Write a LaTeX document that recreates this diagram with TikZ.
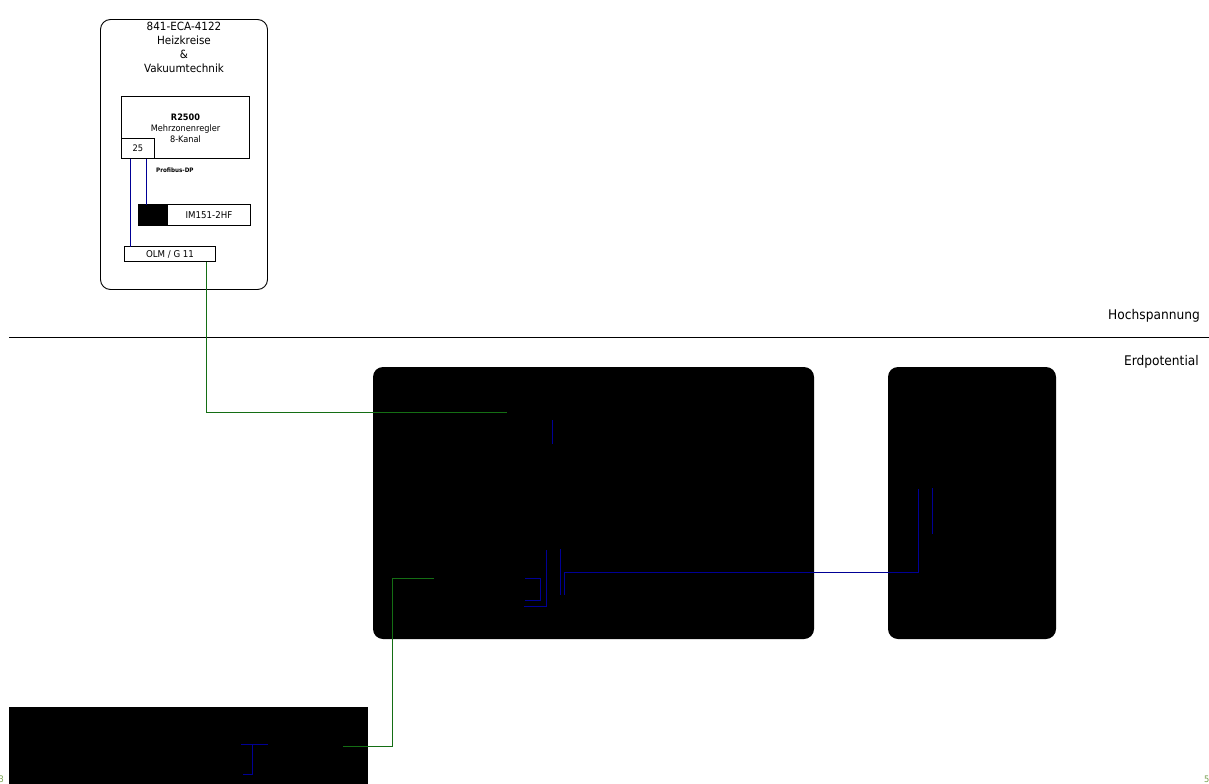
\documentclass[tikz,border=0pt]{standalone}
\usepackage{fontspec}
\setmainfont[FakeStretch=0.92]{DejaVu Sans}
\definecolor{wireblue}{RGB}{0,0,150}
\definecolor{wiregreen}{RGB}{20,110,20}
\definecolor{pagenum}{RGB}{120,160,80}
\newcommand{\fsz}[1]{\fontsize{#1bp}{14bp}\selectfont}
\newcommand{\fszz}[2]{\fontsize{#1bp}{#2bp}\selectfont}
\tikzset{
  x=1bp,y=-1bp,
  box/.style={draw=black,line width=0.9bp,inner sep=0pt,outer sep=0pt,align=center,fill=white},
  blackbox/.style={fill=black,draw=none,inner sep=0pt,outer sep=0pt},
  bluewire/.style={draw=wireblue,line width=1.2bp},
  greenwire/.style={draw=wiregreen,line width=1.2bp},
  sidelabel/.style={inner sep=0pt,anchor=base east,font=\fsz{13.3}},
  smalltxt/.style={inner sep=0pt,align=center,text=black},
  boxsize/.style 2 args={minimum width=#1bp,minimum height=#2bp}
}
\begin{document}
\begin{tikzpicture}
\useasboundingbox (0,0) rectangle (1209,784);
% outer module
\node[box,boxsize={167}{270},rounded corners=10bp] (eca) at (184,154.5) {};
\node[smalltxt,font=\fszz{11.3}{14}] (ecatitle) at (184,47.5) {841-ECA-4122\\Heizkreise\\\&\\Vakuumtechnik};
% R2500
\node[box,boxsize={128}{62}] (r2500) at (185.5,127.5) {};
\node[smalltxt,font=\fszz{8.9}{11}] (r2500txt) at (185.5,128) {\textbf{R2500}\\Mehrzonenregler\\8-Kanal};
\node[box,boxsize={33}{20},font=\fsz{9}] (p25) at (138,148.5) {25};
\node[smalltxt,font=\fsz{6.1}\bfseries,anchor=west] (profi) at (156,170) {Profibus-DP};
% IM151
\node[box,boxsize={112}{21},font=\fsz{9.4}] (im) at (194.5,215) {\hspace*{29bp}IM151-2HF};
\node[blackbox,boxsize={30}{21}] (imblack) at (153,215) {};
% OLM
\node[box,boxsize={91}{15},font=\fsz{9.4}] (olm) at (170,254) {OLM / G 11};
% divider
\coordinate (divL) at (9,337.5);
\coordinate (divR) at (1209,337.5);
\draw[line width=0.9bp] (divL) -- (divR);
\node[sidelabel] (hv) at (1200,319) {Hochspannung};
\node[sidelabel] (ep) at (1199,365) {Erdpotential};
% black blocks
\node[blackbox,boxsize={441}{272},rounded corners=10bp] (mid) at (593.5,503) {};
\node[blackbox,boxsize={168}{272},rounded corners=10bp] (right) at (972,503) {};
\node[blackbox,boxsize={359}{77}] (bot) at (188.5,745.5) {};
% free connector ends
\coordinate (b25a) at (130.5,158.5);
\coordinate (b25b) at (146.5,158.5);
\coordinate (olmin) at (130.5,246.5);
\coordinate (imin) at (146.5,204.5);
\coordinate (olmout) at (206.5,261.5);
\coordinate (g1) at (507,412.5);
\coordinate (g2a) at (434,578.5);
\coordinate (g2b) at (343,746.5);
\draw[bluewire] (b25a) -- (olmin);
\draw[bluewire] (b25b) -- (imin);
\draw[greenwire] (olmout) |- (g1);
\draw[greenwire] (g2a) -- (392.5,578.5) |- (g2b);
% blue stubs in blocks
\coordinate (s1a) at (552.5,420); \coordinate (s1b) at (552.5,444);
\draw[bluewire] (s1a) -- (s1b);
\coordinate (s2a) at (546.5,550); \coordinate (s2b) at (524,606.5);
\draw[bluewire] (s2a) |- (s2b);
\coordinate (s3a) at (525,578.5); \coordinate (s3b) at (525,600.5);
\draw[bluewire] (s3a) -- (540.5,578.5) |- (s3b);
\coordinate (s4a) at (560.5,549); \coordinate (s4b) at (560.5,594.5);
\draw[bluewire] (s4a) -- (s4b);
\coordinate (s5a) at (564.5,594.5); \coordinate (s5b) at (918.5,489);
\draw[bluewire] (s5a) |- (918.5,572.5) -- (s5b);
\coordinate (s6a) at (932.5,488); \coordinate (s6b) at (932.5,534);
\draw[bluewire] (s6a) -- (s6b);
\coordinate (s7a) at (241,744.5); \coordinate (s7b) at (268,744.5);
\draw[bluewire] (s7a) -- (s7b);
\coordinate (s8a) at (252.5,744.5); \coordinate (s8b) at (243,774.5);
\draw[bluewire] (s8a) |- (s8b);
% page marks
\node[inner sep=0pt,anchor=base east,text=pagenum,font=\fsz{9}] (pg3) at (4,782) {3};
\node[inner sep=0pt,anchor=base west,text=pagenum,font=\fsz{9}] (pg5) at (1204,782) {5};
\end{tikzpicture}
\end{document}
